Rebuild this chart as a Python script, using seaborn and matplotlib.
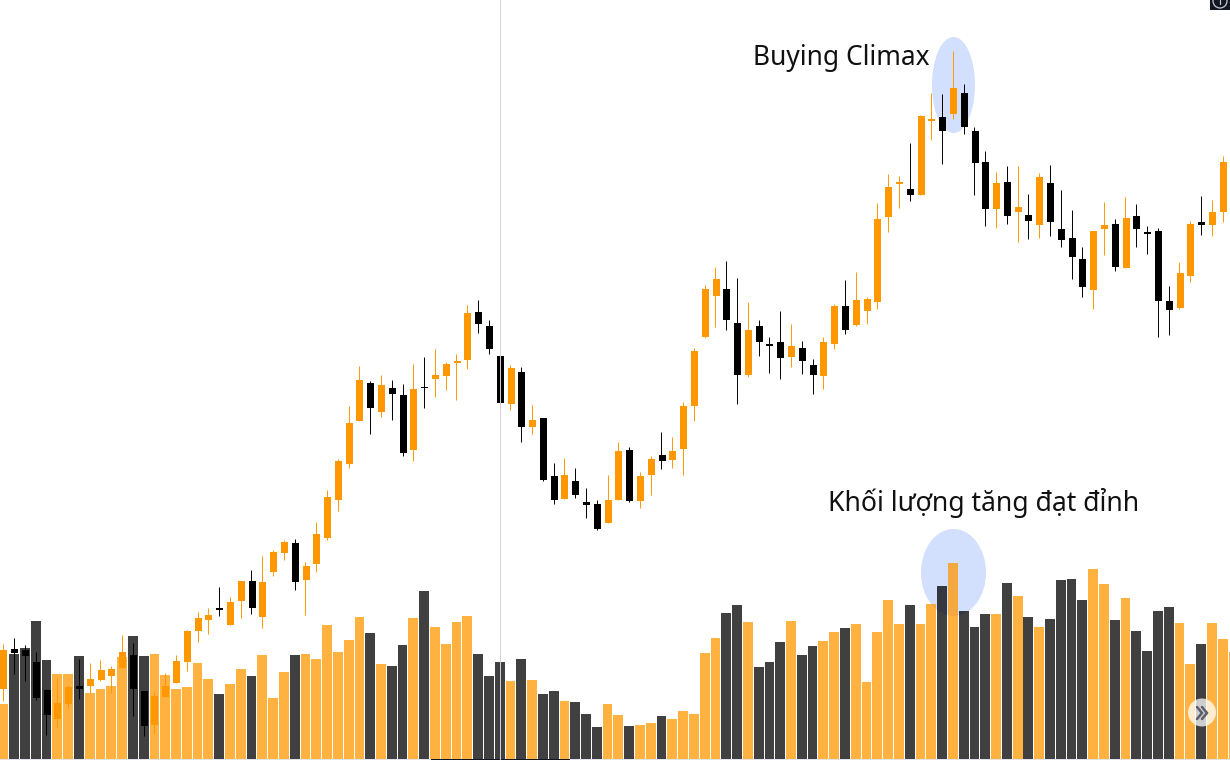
import matplotlib
matplotlib.use("Agg")
import matplotlib.pyplot as plt
from matplotlib.patches import Circle, Ellipse, Rectangle
import numpy as np
import seaborn as sns

# o = up (orange), k = down (black), one letter per session
sides = list(
    "okkkkookoo" "ookkoooooo" "kookoookoo" "ooookokkok" "ooookkkoko"
    "kkokkkooko" "okoooookko" "kkkokkooko" "ooookookok" "kkokokokkk"
    "kookokkkko" "okooo"
)

# No price scale on the picture, so prices are read as pixels down from the top
body_top = [
    650, 649, 650, 662, 690, 703, 687, 686, 679, 670,
    669, 652, 655, 691, 696, 686, 661, 631, 618, 615,
    608, 602, 581, 581, 582, 552, 542, 543, 566, 534,
    497, 461, 423, 380, 383, 385, 388, 395, 389, 387,
    375, 364, 361, 313, 312, 326, 356, 368, 372, 420,
    418, 476, 475, 481, 502, 504, 500, 451, 450, 476,
    459, 455, 451, 406, 351, 289, 279, 289, 323, 330,
    326, 344, 342, 346, 348, 365, 342, 306, 306, 300,
    299, 219, 187, 182, 189, 116, 119, 117, 88, 93,
    131, 162, 183, 182, 207, 215, 177, 183, 229, 238,
    259, 231, 225, 224, 218, 216, 232, 231, 301, 273,
    224, 222, 212, 162,
]
body_bottom = [
    689, 653, 656, 698, 715, 719, 704, 689, 686, 680,
    676, 668, 689, 726, 725, 697, 683, 662, 631, 620,
    610, 625, 601, 608, 617, 572, 553, 582, 580, 564,
    538, 500, 464, 421, 408, 412, 394, 453, 450, 388,
    379, 376, 363, 360, 324, 349, 403, 404, 427, 427,
    480, 500, 499, 495, 505, 529, 523, 500, 501, 501,
    475, 461, 460, 449, 406, 337, 296, 320, 375, 375,
    342, 346, 358, 357, 361, 375, 376, 344, 330, 325,
    311, 302, 217, 184, 195, 195, 121, 131, 114, 127,
    163, 209, 209, 216, 212, 221, 225, 222, 240, 257,
    287, 290, 229, 267, 268, 229, 234, 301, 310, 308,
    276, 225, 225, 212,
]
wick_top = [
    644, 638, 645, 652, 689, 678, 685, 659, 663, 660,
    666, 635, 643, 691, 692, 673, 655, 630, 612, 608,
    587, 597, 581, 570, 556, 550, 540, 539, 562, 522,
    490, 459, 406, 366, 381, 375, 380, 384, 364, 357,
    349, 362, 354, 305, 300, 320, 356, 365, 367, 405,
    418, 463, 458, 468, 488, 500, 475, 442, 447, 472,
    456, 432, 437, 402, 348, 285, 267, 261, 278, 302,
    320, 337, 311, 324, 341, 359, 337, 304, 280, 272,
    297, 203, 174, 176, 143, 115, 93, 94, 51, 84,
    127, 151, 172, 166, 166, 194, 173, 165, 190, 210,
    247, 231, 202, 219, 197, 204, 226, 228, 286, 262,
    221, 196, 200, 156,
]
wick_bottom = [
    701, 674, 681, 700, 735, 727, 708, 699, 693, 681,
    693, 668, 716, 736, 734, 697, 683, 671, 642, 634,
    616, 625, 618, 614, 628, 576, 560, 590, 615, 572,
    540, 511, 468, 421, 434, 417, 420, 456, 461, 408,
    397, 390, 400, 369, 333, 354, 403, 410, 442, 434,
    481, 504, 499, 498, 518, 530, 523, 500, 502, 508,
    495, 469, 468, 475, 421, 338, 327, 330, 404, 377,
    356, 373, 379, 367, 374, 394, 389, 349, 334, 326,
    324, 309, 232, 208, 201, 195, 140, 164, 119, 134,
    195, 226, 228, 224, 242, 239, 238, 236, 247, 279,
    297, 309, 255, 271, 268, 247, 254, 337, 335, 309,
    282, 235, 236, 222,
]
volume = [
    55, 105, 111, 138, 99, 85, 85, 103, 66, 70,
    73, 102, 123, 103, 105, 84, 70, 72, 96, 80,
    65, 75, 90, 83, 104, 61, 87, 104, 105, 100,
    134, 107, 119, 142, 126, 95, 93, 114, 141, 168,
    132, 115, 137, 143, 105, 83, 97, 78, 100, 79,
    65, 68, 58, 57, 45, 32, 55, 44, 33, 34,
    36, 43, 40, 48, 45, 106, 121, 146, 154, 137,
    92, 97, 117, 138, 104, 113, 118, 127, 131, 135,
    77, 127, 159, 135, 154, 135, 155, 173, 196, 148,
    132, 145, 145, 176, 163, 142, 132, 140, 179, 180,
    159, 190, 175, 139, 161, 128, 108, 148, 152, 136,
    95, 115, 136, 120, 107,
]
labels = ["Buying Climax", "Khối lượng tăng đạt đỉnh"]

ORANGE = "#ff9800"
DARK = "#000000"
STEP = 10.79
FIG_W, FIG_H = 1230, 760

sns.set_style("white")
plt.rcParams['font.family'] = ['Noto Sans', 'DejaVu Sans']
fig = plt.figure(figsize=(FIG_W / 100, FIG_H / 100), dpi=100)
fig.patch.set_facecolor("white")


def full_axes(zorder):
    ax = fig.add_axes([0, 0, 1, 1], zorder=zorder)
    ax.patch.set_alpha(0)
    return ax


# highlight ellipses sit behind the see-through volume bars
ax_back = full_axes(0)
ax_back.set_xlim(0, FIG_W)
ax_back.set_ylim(FIG_H, 0)
ax_back.add_patch(Ellipse((953.5, 85), 43, 96, color="#d2dffd", lw=0))
ax_back.add_patch(Ellipse((953.5, 572.5), 65, 87, color="#d2dffd", lw=0))
ax_back.set_axis_off()

# volume
ax_vol = full_axes(1)
sns.barplot(x=np.arange(len(volume)), y=volume, hue=sides, hue_order=["o", "k"],
            palette={"o": ORANGE, "k": DARK}, native_scale=True, dodge=False,
            width=9.8 / STEP, saturation=1, alpha=0.75, errorbar=None, legend=False,
            linewidth=0, ax=ax_vol)
ax_vol.set_xlim(-3.35 / STEP, (FIG_W - 3.35) / STEP)
ax_vol.set_ylim(-1, FIG_H - 1)
ax_vol.set_axis_off()

# candles, wicks a hair left of the body centre so they snap to the same pixel column
ax_price = full_axes(2)
idx = np.arange(len(body_top))
top = np.array(body_top)
bottom = np.array(body_bottom)
candle_sides = np.array(sides[:len(idx)])
for side, colour in [("o", ORANGE), ("k", DARK)]:
    mask = candle_sides == side
    wicks = ax_price.vlines(idx[mask] - 0.055, np.array(wick_top)[mask], np.array(wick_bottom)[mask],
                            colors=colour, linewidth=0.7)
    wicks.set_snap(True)
    sns.barplot(x=idx[mask], y=(bottom - top)[mask], bottom=top[mask],
                native_scale=True, color=colour, width=7 / STEP, saturation=1,
                errorbar=None, linewidth=0, ax=ax_price)
ax_price.set_xlim(-3.9 / STEP, (FIG_W - 3.9) / STEP)
ax_price.set_ylim(FIG_H, 0)
ax_price.set_axis_off()

# crosshair, notes, scroll button
ax_top = full_axes(3)
ax_top.set_xlim(0, FIG_W)
ax_top.set_ylim(FIG_H, 0)
ax_top.axvline(500.4, color="#cfd2de", lw=0.7)
ax_top.add_patch(Rectangle((0, 759), FIG_W, 1, facecolor="#e0e3eb", lw=0))
ax_top.add_patch(Rectangle((431, 759), 139, 1, facecolor="#131722", lw=0))
ax_top.text(753, 65, labels[0], fontsize=19, color="#111111", va="baseline")
ax_top.text(828, 511, labels[1], fontsize=19.1, color="#111111", va="baseline")
ax_top.add_patch(Circle((1202, 712.5), 14, facecolor="white", alpha=0.75, lw=0))
for shift in [0, 5]:
    ax_top.plot([1197 + shift, 1202 + shift, 1197 + shift], [707, 713, 719],
                color="#5d606b", lw=1.8, solid_joinstyle="miter")
ax_top.add_patch(Rectangle((1210, 0), 20, 10, facecolor="#131722", lw=0))
ax_top.add_patch(Circle((1220, 1), 7, facecolor="none", edgecolor="#c8cad0", lw=0.9))
ax_top.plot([1220, 1220], [0, 4], color="#c8cad0", lw=0.9)
ax_top.set_xlim(0, FIG_W)
ax_top.set_ylim(FIG_H, 0)
ax_top.set_axis_off()

fig.savefig("out.png", dpi=100)
plt.close("all")
